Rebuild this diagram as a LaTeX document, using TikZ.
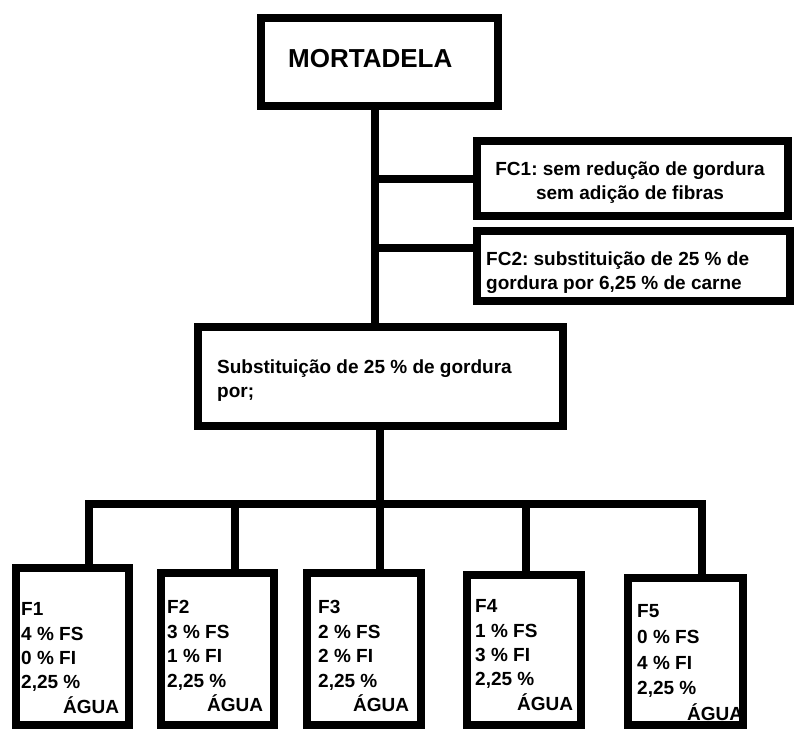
\documentclass[tikz,border=0pt]{standalone}
\usepackage{fontspec}
\setmainfont{Liberation Sans}
\frenchspacing
\begin{document}
\begin{tikzpicture}[x=1pt,y=-1pt,
  box/.style={draw=black,line width=8pt,rectangle,inner sep=0pt,fill=white},
  conn/.style={draw=black,line width=8pt},
  txt/.style={inner sep=0pt,font=\bfseries\fontsize{19}{24.4}\selectfont,align=left,anchor=north west},
]
\useasboundingbox[fill=white] (0,0) rectangle (796,729);
% boxes
\node[box,minimum width=237pt,minimum height=88pt] (mort) at (379.5,62) {};
\node[box,minimum width=311pt,minimum height=75pt] (fc1) at (632.5,178.5) {};
\node[box,minimum width=313pt,minimum height=70pt] (fc2) at (633.5,266) {};
\node[box,minimum width=365pt,minimum height=99pt] (sub) at (380.5,376.5) {};
\node[box,minimum width=113pt,minimum height=157pt] (f1) at (72.5,646.5) {};
\node[box,minimum width=113pt,minimum height=152pt] (f2) at (217.5,649) {};
\node[box,minimum width=114pt,minimum height=152pt] (f3) at (364,649) {};
\node[box,minimum width=114pt,minimum height=150pt] (f4) at (524,650) {};
\node[box,minimum width=115pt,minimum height=147pt] (f5) at (685.5,651.5) {};
% texts
\node[inner sep=0pt,anchor=base west,font=\bfseries\fontsize{26}{30}\selectfont] (tmort) at (288,67) {MORTADELA};
\node[txt,align=center,anchor=north] (tfc1) at (630,161.4) {FC1: sem redução de gordura\\sem adição de fibras};
\node[txt] (tfc2) at (486,251.4) {FC2: substituição de 25 \% de\\gordura por 6,25 \% de carne};
\node[txt] (tsub) at (217,359.4) {Substituição de 25 \% de gordura\\por;};
\node[txt] (tf1) at (21,602.4) {F1\\4 \% FS\\0 \% FI\\2,25 \%\\\hspace*{42pt}ÁGUA};
\node[txt] (tf2) at (167,600.4) {F2\\3 \% FS\\1 \% FI\\2,25 \%\\\hspace*{40pt}ÁGUA};
\node[txt] (tf3) at (318,600.4) {F3\\2 \% FS\\2 \% FI\\2,25 \%\\\hspace*{35pt}ÁGUA};
\node[txt] (tf4) at (475,599.4) {F4\\1 \% FS\\3 \% FI\\2,25 \%\\\hspace*{42pt}ÁGUA};
\node[txt,font=\bfseries\fontsize{19}{25.75}\selectfont] (tf5) at (637,604.4) {F5\\0 \% FS\\4 \% FI\\2,25 \%\\\hspace*{50pt}ÁGUA};
% connectors
\coordinate (tu) at (375,0);
\coordinate (tl) at (380,0);
\coordinate (busl) at (89,504);
\coordinate (busr) at (702,504);
\coordinate (b2) at (235,504);
\coordinate (b3) at (380,504);
\coordinate (b4) at (526,504);
\draw[conn] (mort.south -| tu) -- (sub.north -| tu);
\draw[conn] (fc1.west) -- (fc1.west -| tu);
\draw[conn] (fc2.west |- 0,248) -- (tu |- 0,248);
\draw[conn] (sub.south -| tl) -- (b3);
\draw[conn] (f1.north -| busl) -- (busl) -- (busr) -- (f5.north -| busr);
\draw[conn] (b2) -- (f2.north -| b2);
\draw[conn] (b3) -- (f3.north -| b3);
\draw[conn] (b4) -- (f4.north -| b4);
\end{tikzpicture}
\end{document}
